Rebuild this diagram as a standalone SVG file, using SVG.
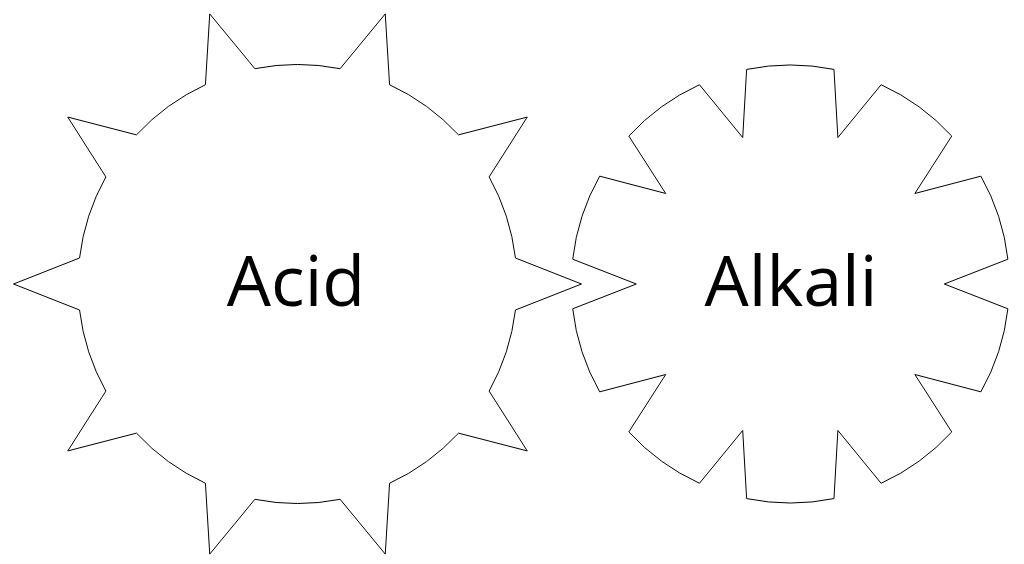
<svg xmlns="http://www.w3.org/2000/svg" width="1024" height="564" viewBox="0 0 1024 564">
<style>
.shape{fill:#ffffff;stroke:#000000;stroke-width:1;stroke-linejoin:miter}
.label{font-family:"Open Sans","Noto Sans","Liberation Sans",sans-serif;font-size:70px;fill:#000000;text-anchor:middle}
</style>
<rect width="1024" height="564" fill="#ffffff"/>
<g id="acid">
<path class="shape" d="M 340.13,68.68 L 385.26,13.90 L 389.57,84.74 A 219.5 219.5 0 0 1 458.55,134.86 L 527.26,117.07 L 489.11,176.91 A 219.5 219.5 0 0 1 515.46,258.01 L 581.5,284 L 515.46,309.99 A 219.5 219.5 0 0 1 489.11,391.09 L 527.26,450.93 L 458.55,433.14 A 219.5 219.5 0 0 1 389.57,483.26 L 385.26,554.10 L 340.13,499.32 A 219.5 219.5 0 0 1 254.87,499.32 L 209.74,554.10 L 205.43,483.26 A 219.5 219.5 0 0 1 136.45,433.14 L 67.74,450.93 L 105.89,391.09 A 219.5 219.5 0 0 1 79.54,309.99 L 13.5,284 L 79.54,258.01 A 219.5 219.5 0 0 1 105.89,176.91 L 67.74,117.07 L 136.45,134.86 A 219.5 219.5 0 0 1 205.43,84.74 L 209.74,13.90 L 254.87,68.68 A 219.5 219.5 0 0 1 340.13,68.68 Z"/>
<text class="label" x="296" y="306">Acid</text>
</g>
<g id="alkali">
<path class="shape" d="M 746.64,69.40 A 219 219 0 0 1 833.96,69.40 L 837.89,137.54 L 881.12,84.72 A 219 219 0 0 1 951.76,136.05 L 914.89,193.48 L 980.91,176.16 A 219 219 0 0 1 1007.89,259.21 L 944.3,284 L 1007.89,308.79 A 219 219 0 0 1 980.91,391.84 L 914.89,374.52 L 951.76,431.95 A 219 219 0 0 1 881.12,483.28 L 837.89,430.46 L 833.96,498.60 A 219 219 0 0 1 746.64,498.60 L 742.71,430.46 L 699.48,483.28 A 219 219 0 0 1 628.84,431.95 L 665.71,374.52 L 599.69,391.84 A 219 219 0 0 1 572.71,308.79 L 636.3,284 L 572.71,259.21 A 219 219 0 0 1 599.69,176.16 L 665.71,193.48 L 628.84,136.05 A 219 219 0 0 1 699.48,84.72 L 742.71,137.54 Z"/>
<text class="label" x="791" y="306">Alkali</text>
</g>
<g id="connectors"></g>
</svg>
